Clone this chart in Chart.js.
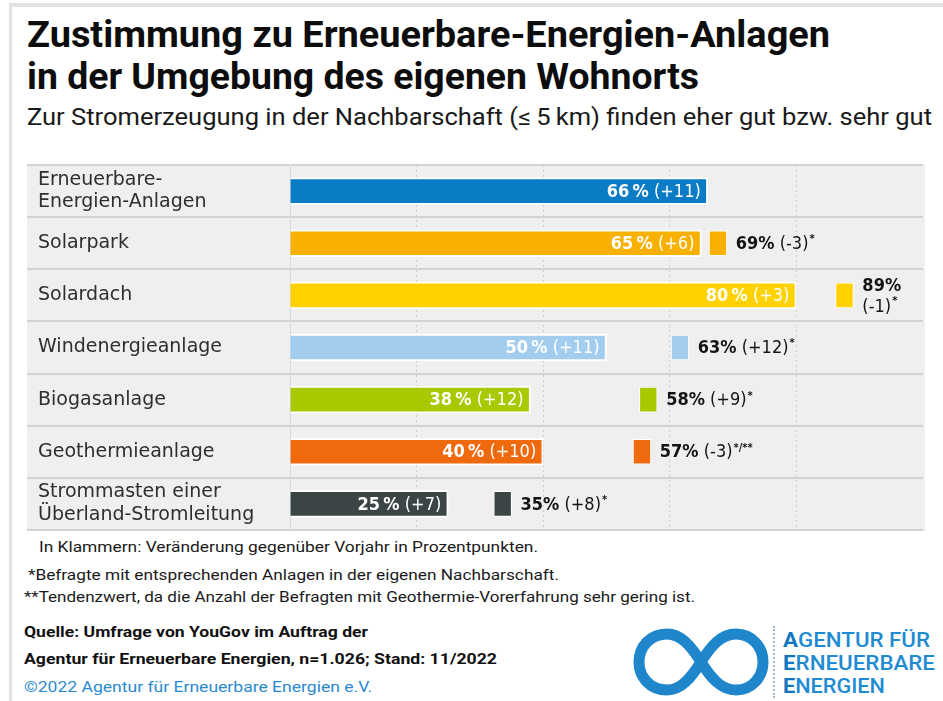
<!DOCTYPE html>
<html lang="de">
<head>
<meta charset="utf-8">
<title>Zustimmung zu Erneuerbare-Energien-Anlagen</title>
<script src="https://cdn.jsdelivr.net/npm/chart.js@4.4.1/dist/chart.umd.min.js"></script>
<style>
  html, body { margin: 0; padding: 0; background: #fff; }
  body { width: 943px; height: 701px; position: relative; overflow: hidden; font-family: Roboto, "DejaVu Sans", sans-serif; color: #111; }
  #frame { position: absolute; left: 9px; top: 3px; width: 940px; height: 710px; border-left: 3px solid #e2e2e2; border-top: 4px solid #e2e2e2; }
  .fit { position: absolute; white-space: nowrap; line-height: 1; transform-origin: 0 0; }
  .title { left: 27px; font-size: 37px; font-weight: 700; color: #0d0d0d; }
  .sub { left: 27px; font-size: 24px; color: #1a1a1a; }
  .note { font-size: 15px; color: #1a1a1a; }
  .src { font-size: 15px; font-weight: 700; color: #111; }
  .copy { font-size: 15px; color: #2a8ad0; }
  .logo { font-size: 20px; font-weight: 500; color: #1f8bd2; left: 783px; }
  .logo b { color: #0f76bf; font-weight: 700; }
  #box { position: absolute; left: 27px; top: 164px; width: 898px; height: 367px; }
  #dots { position: absolute; left: 773px; top: 626px; height: 72px; border-left: 2px dotted #9fb7c8; }
  #inf { position: absolute; left: 631px; top: 624px; }
</style>
</head>
<body>
<div id="frame"></div>
<div class="fit title" style="top:16px" data-w="803">Zustimmung zu Erneuerbare-Energien-Anlagen</div>
<div class="fit title" style="top:58px" data-w="672">in der Umgebung des eigenen Wohnorts</div>
<div class="fit sub" style="top:105px" data-w="905">Zur Stromerzeugung in der Nachbarschaft (≤&#8201;5&#8201;km) finden eher gut bzw. sehr gut</div>

<div id="box"><canvas id="chart"></canvas></div>

<div class="fit note" style="left:39px;top:540px" data-w="499">In Klammern: Veränderung gegenüber Vorjahr in Prozentpunkten.</div>
<div class="fit note" style="left:28px;top:568px" data-w="531">*Befragte mit entsprechenden Anlagen in der eigenen Nachbarschaft.</div>
<div class="fit note" style="left:24px;top:590px" data-w="671">**Tendenzwert, da die Anzahl der Befragten mit Geothermie-Vorerfahrung sehr gering ist.</div>
<div class="fit src" style="left:24px;top:625px" data-w="344">Quelle: Umfrage von YouGov im Auftrag der</div>
<div class="fit src" style="left:24px;top:652px" data-w="473">Agentur für Erneuerbare Energien, n=1.026; Stand: 11/2022</div>
<div class="fit copy" style="left:24px;top:680px" data-w="348">©2022 Agentur für Erneuerbare Energien e.V.</div>

<svg id="inf" width="142" height="76" viewBox="0 0 142 76">
  <path d="M70,38 C60,22 50,10 36,10 C19,10 8,23 8,38 C8,53 19,66 36,66 C50,66 60,54 70,38 C80,22 90,10 105,10 C121,10 132,23 132,38 C132,53 121,66 105,66 C90,66 80,54 70,38 Z"
        fill="none" stroke="#1f86cc" stroke-width="11"/>
</svg>
<div id="dots"></div>
<div class="fit logo" style="top:630px" data-w="147"><b>A</b>GENTUR FÜR</div>
<div class="fit logo" style="top:653px" data-w="152"><b>E</b>RNEUERBARE</div>
<div class="fit logo" style="top:676px" data-w="102"><b>E</b>NERGIEN</div>

<script>
// categories and values
var categories = [
    ["Erneuerbare-", "Energien-Anlagen"],
    "Solarpark",
    "Solardach",
    "Windenergieanlage",
    "Biogasanlage",
    "Geothermieanlage",
    ["Strommasten einer", "Überland-Stromleitung"]
]
var allValues = [66, 65, 80, 50, 38, 40, 25]          // alle Befragten, %
var allChange = [11, 6, 3, 11, 12, 10, 7]             // Veränderung ggü. Vorjahr
var nearValues = [null, 69, 89, 63, 58, 57, 35]       // Befragte mit Anlagen in der Nachbarschaft
var nearChange = [null, -3, -1, 12, 9, -3, 8]
var nearNotes = [null, "*", "*", "*", "*", "*/**", "*"]
var xTicks = [0, 20, 40, 60, 80, 100]
var barColors = ["#0a7cc5", "#f8b100", "#ffd200", "#a3cdef", "#a9c800", "#ee6a0c", "#3c4545"]

var MARK_W = 2.8   // width of the small square, in axis units
var VAL_FONT = '"DejaVu Sans Condensed", "Liberation Sans Narrow", "DejaVu Sans", sans-serif'

// squeeze the html text lines to the widths of the original
document.querySelectorAll('.fit').forEach(function (el) {
    var w = el.getBoundingClientRect().width
    el.style.transform = 'scaleX(' + (parseFloat(el.dataset.w) / w) + ')'
})

function signed(v) {
    return (v > 0 ? '+' : '') + v
}

var panelBg = {
    id: 'panelBg',
    beforeDraw: function (chart) {
        var ctx = chart.ctx
        ctx.save()
        ctx.fillStyle = '#efefef'
        ctx.fillRect(0, 0, chart.width, chart.height)
        ctx.restore()
    }
}

var valueLabels = {
    id: 'valueLabels',
    afterDatasetsDraw: function (chart) {
        var ctx = chart.ctx
        var bars = chart.getDatasetMeta(0).data
        var marks = chart.getDatasetMeta(1).data
        ctx.save()
        ctx.textBaseline = 'middle'

        // labels inside the long bars
        bars.forEach(function (bar, i) {
            var boldTxt = allValues[i] + '\u2009%'
            var regTxt = ' (' + signed(allChange[i]) + ')'
            var xEnd = bar.x - 7
            ctx.fillStyle = '#ffffff'
            ctx.textAlign = 'right'
            ctx.font = '18px ' + VAL_FONT
            var rw = ctx.measureText(regTxt).width
            ctx.fillText(regTxt, xEnd, bar.y + 1)
            ctx.font = 'bold 18px ' + VAL_FONT
            ctx.fillText(boldTxt, xEnd - rw, bar.y + 1)
        })

        // labels next to the small squares
        marks.forEach(function (m, i) {
            if (nearValues[i] == null) return
            var x = Math.max(m.x, m.base) + 9
            var boldTxt = nearValues[i] + '%'
            var regTxt = ' (' + signed(nearChange[i]) + ')'
            ctx.fillStyle = '#141414'
            ctx.textAlign = 'left'
            ctx.font = 'bold 18px ' + VAL_FONT
            var bw = ctx.measureText(boldTxt).width
            ctx.font = '18px ' + VAL_FONT
            var rw = ctx.measureText(regTxt).width
            ctx.font = 'bold 11px ' + VAL_FONT
            var nw = ctx.measureText(nearNotes[i]).width
            var twoLines = x + bw + rw + nw > chart.width - 4

            ctx.font = 'bold 18px ' + VAL_FONT
            if (twoLines) {
                ctx.fillText(boldTxt, x, m.y - 9)
                ctx.font = '18px ' + VAL_FONT
                ctx.fillText(regTxt.trim(), x, m.y + 12)
                var rw2 = ctx.measureText(regTxt.trim()).width
                ctx.font = 'bold 11px ' + VAL_FONT
                ctx.fillText(nearNotes[i], x + rw2 + 1, m.y + 6)
            } else {
                ctx.fillText(boldTxt, x, m.y + 1)
                ctx.font = '18px ' + VAL_FONT
                ctx.fillText(regTxt, x + bw, m.y + 1)
                ctx.font = 'bold 11px ' + VAL_FONT
                ctx.fillText(nearNotes[i], x + bw + rw + 1, m.y - 4)
            }
        })
        ctx.restore()
    }
}

var ctx = document.getElementById('chart').getContext('2d')
var myChart = new Chart(ctx, {
    type: 'bar',
    data: {
        labels: categories,
        datasets: [{
            label: 'Alle Befragten',
            data: allValues,
            backgroundColor: barColors,
            borderColor: '#ffffff',
            borderWidth: 2,
            borderSkipped: 'start',
            barThickness: 27,
            grouped: false
        },
        {
            label: 'Befragte mit Anlagen in der Nachbarschaft',
            data: nearValues.map(function (v) { return v == null ? null : [v - MARK_W, v] }),
            backgroundColor: barColors,
            borderColor: '#ffffff',
            borderWidth: 1,
            borderSkipped: false,
            barThickness: 25,
            grouped: false
        }]
    },
    options: {
        indexAxis: 'y',
        responsive: true,
        maintainAspectRatio: false,
        animation: false,
        layout: { padding: { left: 11, right: 2, top: 1, bottom: 1 } },
        plugins: {
            legend: { display: false },
            tooltip: { enabled: false }
        },
        scales: {
            x: {
                min: 0,
                max: 100,
                afterBuildTicks: function (scale) {
                    scale.ticks = xTicks.map(function (v) { return { value: v } })
                },
                ticks: { display: false },
                grid: {
                    drawTicks: false,
                    lineWidth: 1,
                    color: function (c) { return c.tick && c.tick.value === 100 ? 'rgba(0,0,0,0)' : '#cdcdcd' }
                },
                border: { display: false, dash: [2, 3] }
            },
            y: {
                afterFit: function (scale) {
                    scale.width = 252
                    // the two-line labels must not push the rows inwards
                    scale.paddingTop = 0
                    scale.paddingBottom = 0
                },
                ticks: {
                    crossAlign: 'far',
                    color: '#2e2e2e',
                    padding: 0,
                    font: { family: '"DejaVu Sans", sans-serif', size: 19, lineHeight: 1.2 }
                },
                grid: {
                    offset: true,
                    color: '#d3d3d3',
                    lineWidth: 2,
                    tickLength: 263
                },
                border: { display: true, color: '#d8d8e0', width: 1 }
            }
        }
    },
    plugins: [panelBg, valueLabels]
})
</script>
</body>
</html>
